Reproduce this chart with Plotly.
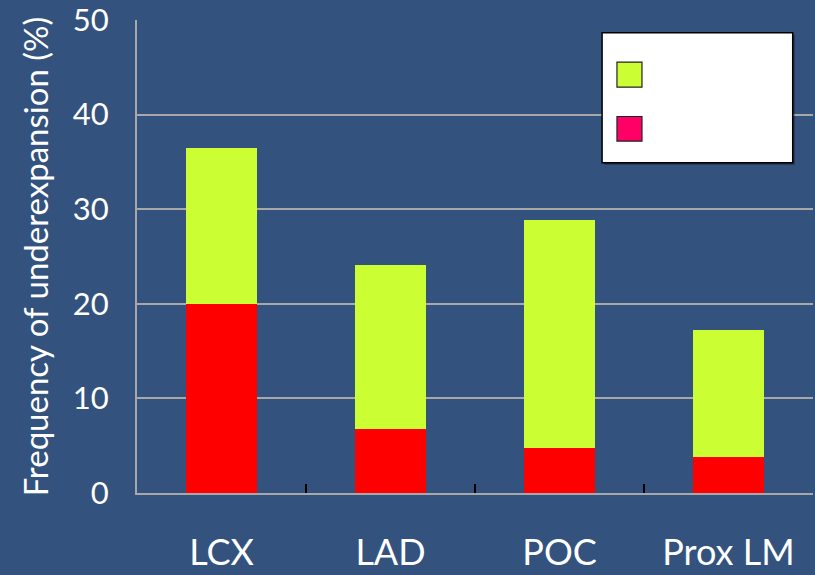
import plotly.graph_objects as go

# Coronary segment categories
segments = ["LCX", "LAD", "POC", "Prox LM"]
# Lower (red) portion of each stacked bar, %
red_part = [20.0, 6.8, 4.8, 3.8]
# Upper (yellow-green) portion stacked on top, %
green_part = [16.5, 17.3, 24.1, 13.4]
y_ticks = [0, 10, 20, 30, 40, 50]

BG = "#33527E"
GRID = "#A8A8A8"
FONT = "Lato"

fig = go.Figure()
fig.add_trace(go.Bar(x=segments, y=red_part, marker=dict(color="#FF0000", line=dict(width=0)),
                     width=0.415, showlegend=False))
fig.add_trace(go.Bar(x=segments, y=green_part, marker=dict(color="#CCFF33", line=dict(width=0)),
                     width=0.415, showlegend=False))

# Boxed legend with coloured keys
shapes = [
    dict(type="rect", xref="paper", yref="paper", x0=0.691, x1=0.973, y0=0.694, y1=0.969,
         fillcolor="rgba(0,0,0,0.35)", line=dict(width=0), layer="above"),
    dict(type="rect", xref="paper", yref="paper", x0=0.688, x1=0.970, y0=0.698, y1=0.973,
         fillcolor="white", line=dict(color="black", width=1.5), layer="above"),
    dict(type="rect", xref="paper", yref="paper", x0=0.710, x1=0.747, y0=0.858, y1=0.911,
         fillcolor="#CCFF33", line=dict(color="#222222", width=1.2), layer="above"),
    dict(type="rect", xref="paper", yref="paper", x0=0.710, x1=0.747, y0=0.744, y1=0.796,
         fillcolor="#FF0066", line=dict(color="#222222", width=1.2), layer="above"),
]

fig.update_layout(
    barmode="stack",
    width=815, height=575,
    margin=dict(l=137, r=2, t=20, b=82),
    paper_bgcolor=BG, plot_bgcolor=BG,
    font=dict(family=FONT, color="white"),
    shapes=shapes,
    xaxis=dict(
        type="category", automargin=False, ticklabeloverflow="allow",
        tickson="boundaries", ticks="inside", ticklen=9, tickwidth=1.5, tickcolor="black",
        tickfont=dict(size=36, color="white", family=FONT),
        ticklabelstandoff=27,
        showgrid=False, showline=True, linecolor=GRID, linewidth=2,
        range=[-0.5, 3.5],
    ),
    yaxis=dict(
        range=[0, 50], tickvals=y_ticks, automargin=False, ticklabeloverflow="allow",
        showgrid=True, gridcolor=GRID, gridwidth=2,
        showline=True, linecolor=GRID, linewidth=2,
        zeroline=False,
        tickfont=dict(size=31, color="white", family=FONT),
        ticklabelstandoff=20,
        title=dict(text="Frequency of underexpansion (%)", font=dict(size=33, color="white", family=FONT),
                   standoff=14),
    ),
)

fig.write_html("out.html")
